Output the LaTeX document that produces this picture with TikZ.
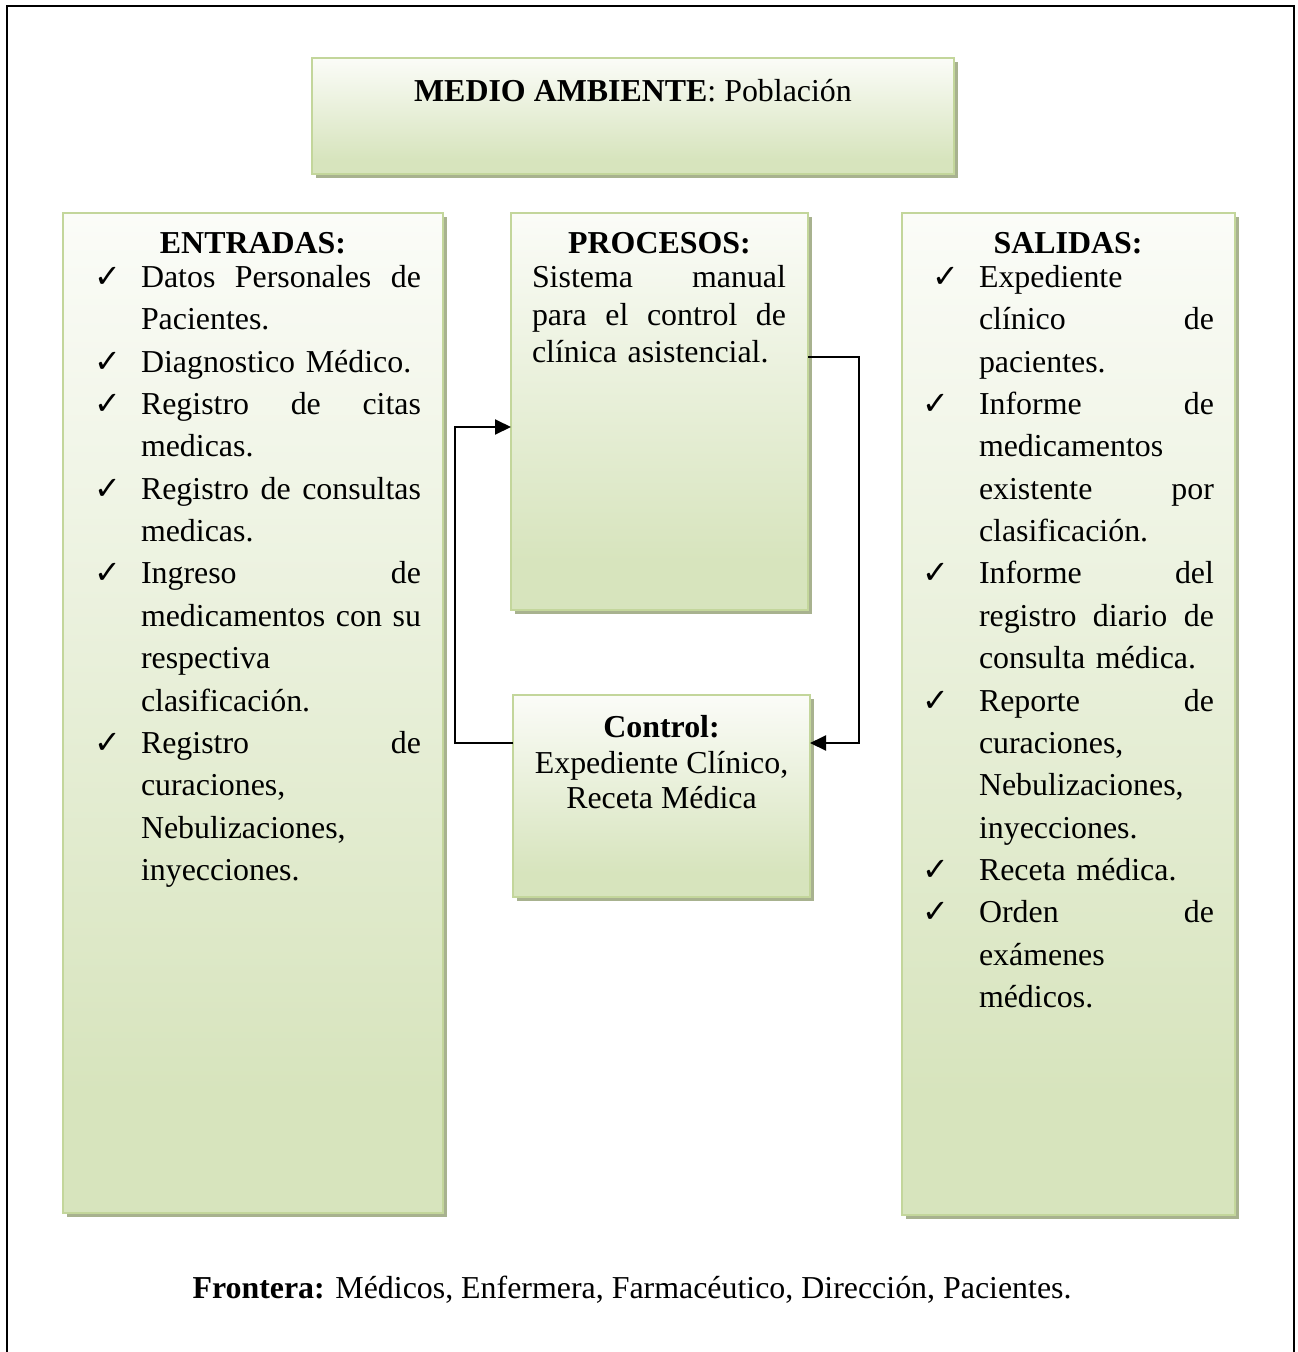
\documentclass[tikz,border=0pt]{standalone}
\usepackage{fontspec}
\setmainfont{Liberation Serif}
\newfontfamily\symfont{DejaVu Sans}
\usetikzlibrary{arrows.meta,shadows}

\definecolor{boxgreen}{HTML}{D7E4BD}
\definecolor{boxtop}{HTML}{FBFCF8}
\definecolor{boxedge}{HTML}{C3D69B}
\definecolor{boxshade}{HTML}{A8B28F}

% light-to-green fade from top to bottom of each box
\pgfdeclareverticalshading{greenfade}{100bp}{color(0bp)=(boxgreen); color(31bp)=(boxgreen); color(75bp)=(boxtop); color(100bp)=(boxtop)}

% a line spread over the full column width (words separated by \hfill)
\newcommand\jl[2]{\leavevmode\hbox to #1{#2}}
% check mark hanging to the left of a list item
\newcommand\chk[1]{\leavevmode\llap{{\symfont\fontsize{32}{32}\selectfont ✓}\hspace{#1}}}
\newcommand\firstline{\leavevmode\rule{0pt}{30pt}}

\tikzset{
  box/.style={draw=boxedge, line width=2.5pt, shade, shading=greenfade,
    drop shadow={shadow xshift=4pt, shadow yshift=-4pt, fill=boxshade, opacity=1},
    anchor=north west, inner sep=0pt, outer sep=0pt},
  body/.style={inner sep=0pt, outer sep=0pt, anchor=north west, align=left,
    font=\fontsize{31.9}{42.35}\selectfont},
  head/.style={inner sep=0pt, anchor=base, font=\fontsize{31.9}{36}\selectfont\bfseries},
  plain/.style={inner sep=0pt, anchor=base, font=\fontsize{31.9}{36}\selectfont},
  conn/.style={line width=2pt, black},
  tip/.style={-{Triangle[length=16pt, width=15pt]}}
}

\begin{document}
\begin{tikzpicture}[x=1pt, y=-1pt]
\useasboundingbox (0,0) rectangle (1298,1352);
\fill[white] (0,0) rectangle (1298,1352);

% outer frame
\draw[line width=2pt] (7,1370) -- (7,6) -- (1294,6) -- (1294,1370);

% boxes
\node[box, minimum width=642pt, minimum height=116pt] (env) at (312,58) {};
\node[box, minimum width=380pt, minimum height=1000pt] (ent) at (63,213) {};
\node[box, minimum width=297pt, minimum height=397pt] (proc) at (511,213) {};
\node[box, minimum width=297pt, minimum height=202pt] (ctl) at (513,695) {};
\node[box, minimum width=333pt, minimum height=1002pt] (sal) at (902,213) {};

% environment
\node[plain] (envt) at (633,101) {\textbf{MEDIO AMBIENTE}: Población};

% inputs
\node[head] (enth) at (253,253.5) {ENTRADAS:};
\node[body, text width=280pt] (entt) at (141,257.5) {%
\firstline\chk{20pt}\jl{280pt}{Datos\hfill Personales\hfill de}\\
Pacientes.\\
\chk{20pt}Diagnostico Médico.\\
\chk{20pt}\jl{280pt}{Registro\hfill de\hfill citas}\\
medicas.\\
\chk{20pt}\jl{280pt}{Registro\hfill de\hfill consultas}\\
medicas.\\
\chk{20pt}\jl{280pt}{Ingreso\hfill de}\\
\jl{280pt}{medicamentos\hfill con\hfill su}\\
respectiva\\
clasificación.\\
\chk{20pt}\jl{280pt}{Registro\hfill de}\\
curaciones,\\
Nebulizaciones,\\
inyecciones.};

% process
\node[head] (proch) at (659.5,253.5) {PROCESOS:};
\node[body, text width=254pt, font=\fontsize{31.9}{37.5}\selectfont] (proct) at (532,257.5) {%
\firstline\jl{254pt}{Sistema\hfill manual}\\
\jl{254pt}{para\hfill el\hfill control\hfill de}\\
clínica asistencial.};

% control
\node[inner sep=0pt, anchor=north, align=center, font=\fontsize{31.9}{35.5}\selectfont] (ctlt) at (661.5,707.5) {%
\firstline\textbf{Control:}\\
Expediente Clínico,\\
Receta Médica};

% outputs
\node[head] (salh) at (1068,253.5) {SALIDAS:};
\node[body, text width=235pt] (salt) at (979,257.5) {%
\firstline\chk{20pt}Expediente\\
\jl{235pt}{clínico\hfill de}\\
pacientes.\\
\chk{30pt}\jl{235pt}{Informe\hfill de}\\
medicamentos\\
\jl{235pt}{existente\hfill por}\\
clasificación.\\
\chk{30pt}\jl{235pt}{Informe\hfill del}\\
\jl{235pt}{registro\hfill diario\hfill de}\\
consulta médica.\\
\chk{30pt}\jl{235pt}{Reporte\hfill de}\\
curaciones,\\
Nebulizaciones,\\
inyecciones.\\
\chk{30pt}Receta médica.\\
\chk{30pt}\jl{235pt}{Orden\hfill de}\\
exámenes\\
médicos.};

% boundary
\node[plain] (front) at (632,1298) {\textbf{Frontera:} Médicos, Enfermera, Farmacéutico, Dirección, Pacientes.};

% feedback loop between process and control
\coordinate (rbend) at (859,743);
\coordinate (lbend) at (455,427);
\draw[conn, tip] (proc.east |- 0,357) -| (rbend) -- (ctl.east |- rbend);
\draw[conn, tip] (ctl.west |- 0,743) -| (lbend) -- (proc.west |- lbend);
\end{tikzpicture}
\end{document}
